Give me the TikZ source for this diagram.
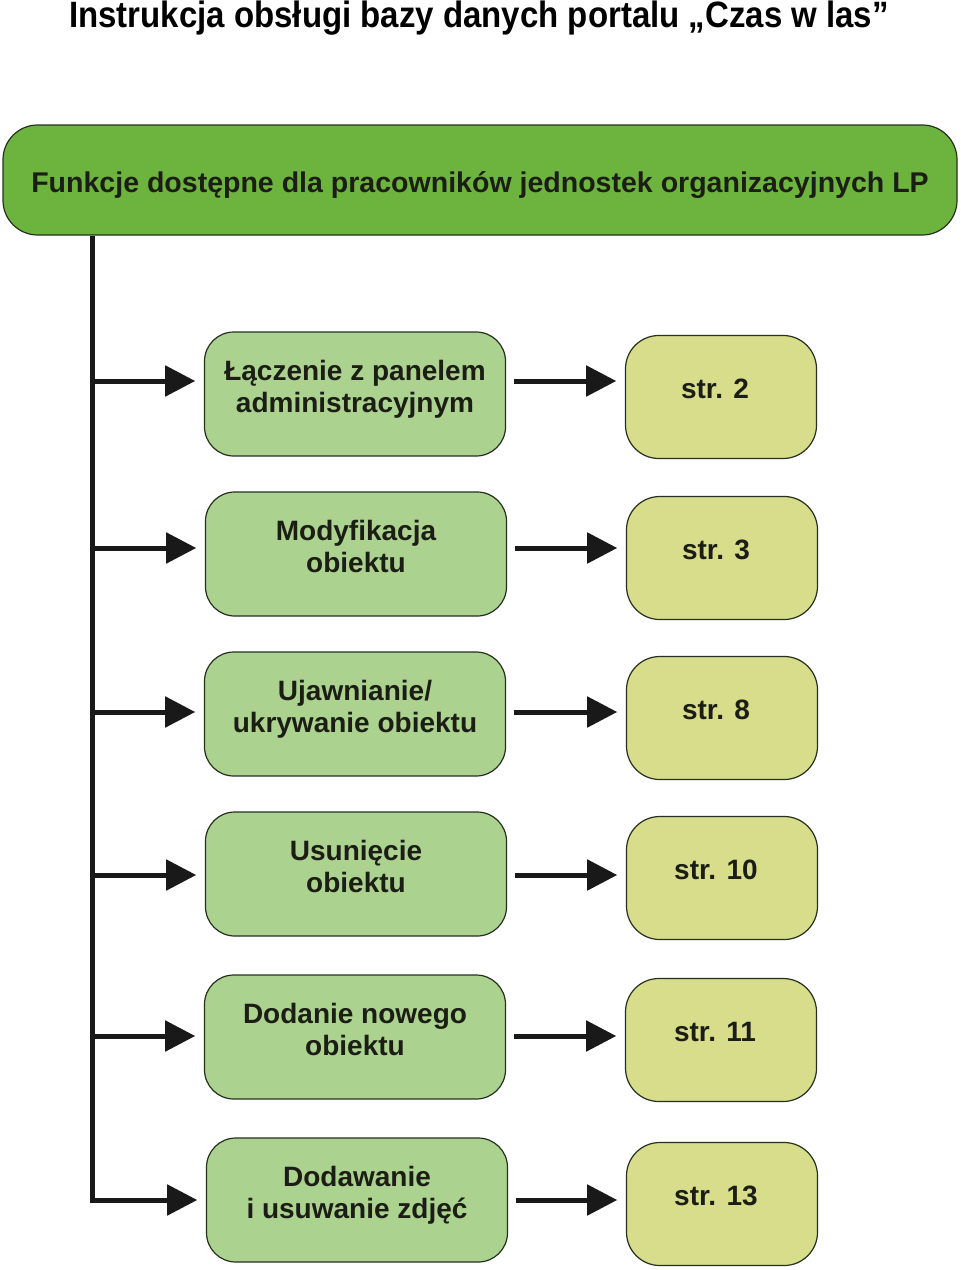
\documentclass[tikz,border=0pt]{standalone}
\usepackage{fontspec}
\setmainfont{Liberation Sans}
\usetikzlibrary{arrows.meta}
\definecolor{zielen}{RGB}{109,180,62}
\definecolor{jasnyzielen}{RGB}{171,210,142}
\definecolor{oliwka}{RGB}{215,221,138}
\definecolor{ramka}{RGB}{38,48,30}
\definecolor{tekst}{RGB}{28,30,22}
\tikzset{
  tytul/.style    = {inner sep=0, anchor=base, text=black, font=\bfseries\fontsize{27.5}{32}\selectfont},
  naglowek/.style = {rectangle, rounded corners=26pt, draw=ramka, line width=0.9pt, fill=zielen, text=tekst,
                     minimum width=715.5pt, minimum height=82.5pt, font=\bfseries\fontsize{21.4}{24}\selectfont,
                     execute at begin node={\rule{0pt}{24pt}}},
  kafel/.style    = {rectangle, draw=ramka, line width=0.9pt, align=center, text=tekst,
                     font=\bfseries\fontsize{21}{24}\selectfont, execute at end node={\rule[-12pt]{0pt}{0pt}}},
  funkcja/.style  = {kafel, rounded corners=22pt, fill=jasnyzielen, minimum width=225.75pt, minimum height=93pt},
  strona/.style   = {kafel, rounded corners=25pt, fill=oliwka, minimum width=143.25pt, minimum height=92.25pt,
                     execute at end node={\rule[-12pt]{9pt}{0pt}}},
  link/.style     = {line width=3.75pt, draw=black!90},
  strzalka/.style = {link, -{Triangle[length=22.5pt,width=22.5pt]}, shorten >=6.5pt}
}
\begin{document}
\begin{tikzpicture}[x=0.75pt,y=-0.75pt]
  \useasboundingbox[fill=white] (0,0) rectangle (960,1270);
  \node[tytul] (T) at (479,28) {\scalebox{0.9}[1]{Instrukcja obsługi bazy danych portalu „Czas w las”}};
  \node[naglowek] (H) at (480,180) {Funkcje dostępne dla pracowników jednostek organizacyjnych LP};
  % funkcje i strony
  \node[funkcja] (L1) at (355, 394) {Łączenie z panelem\\administracyjnym}; \node[strona] (S1) at (721, 397) {str. 2};
  \node[funkcja] (L2) at (356, 554) {Modyfikacja\\obiektu};                 \node[strona] (S2) at (722, 558) {str. 3};
  \node[funkcja] (L3) at (355, 714) {Ujawnianie/\\ukrywanie obiektu};       \node[strona] (S3) at (722, 718) {str. 8};
  \node[funkcja] (L4) at (356, 874) {Usunięcie\\obiektu};                   \node[strona] (S4) at (722, 878) {str. 10};
  \node[funkcja] (L5) at (355,1037) {Dodanie nowego\\obiektu};              \node[strona] (S5) at (721,1040) {str. 11};
  \node[funkcja] (L6) at (357,1200) {Dodawanie\\i usuwanie zdjęć};          \node[strona] (S6) at (722,1204) {str. 13};
  % pien i odgalezienia
  \coordinate (w1) at (92, 381); \coordinate (w2) at (92, 548); \coordinate (w3) at (92, 712);
  \coordinate (w4) at (92, 875); \coordinate (w5) at (92,1036);
  \draw[strzalka] (H.south -| w1) |- (L6.west);
  \draw[strzalka] (w1) -- (w1 -| L1.west); \draw[strzalka, shorten <=6pt] (L1.east |- w1) -- (S1.west |- w1);
  \draw[strzalka] (w2) -- (w2 -| L2.west); \draw[strzalka, shorten <=6pt] (L2.east |- w2) -- (S2.west |- w2);
  \draw[strzalka] (w3) -- (w3 -| L3.west); \draw[strzalka, shorten <=6pt] (L3.east |- w3) -- (S3.west |- w3);
  \draw[strzalka] (w4) -- (w4 -| L4.west); \draw[strzalka, shorten <=6pt] (L4.east |- w4) -- (S4.west |- w4);
  \draw[strzalka] (w5) -- (w5 -| L5.west); \draw[strzalka, shorten <=6pt] (L5.east |- w5) -- (S5.west |- w5);
  \draw[strzalka, shorten <=6pt] (L6.east) -- (S6.west |- L6.east);
\end{tikzpicture}
\end{document}
